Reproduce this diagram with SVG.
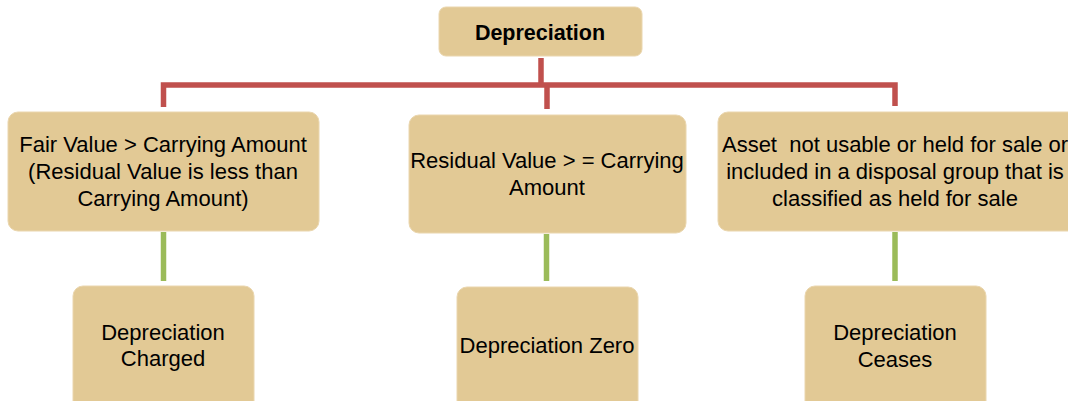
<svg xmlns="http://www.w3.org/2000/svg" width="1068" height="401" viewBox="0 0 1068 401">
<style>
.box{fill:#E2C995;stroke:#EAD6AE;stroke-width:1}
.t{font-family:"Liberation Sans",Arial,sans-serif;font-size:22px;fill:#000;text-anchor:middle}
.b{font-weight:bold;font-size:21.5px}
.red{fill:none;stroke:#C0504D;stroke-width:5.5}
.green{fill:none;stroke:#9BBB59;stroke-width:5.5}
</style>
<rect width="1068" height="401" fill="#fff"/>
<g id="connectors">
<path class="red" d="M541 58V85"/>
<path class="red" d="M163.5 107V85H895V106"/>
<path class="red" d="M547 85V109"/>
<path class="green" d="M163.5 232V281"/>
<path class="green" d="M546.5 234V281"/>
<path class="green" d="M895 232V281"/>
</g>
<g id="n-root">
<rect class="box" x="439" y="7" width="203" height="49" rx="7"/>
<text class="t b" x="540" y="40">Depreciation</text>
</g>
<g id="n-fair">
<rect class="box" x="8" y="112" width="311" height="119" rx="10"/>
<text class="t" x="163" y="152">Fair Value &gt; Carrying Amount</text>
<text class="t" x="163" y="179">(Residual Value is less than</text>
<text class="t" x="163" y="206">Carrying Amount)</text>
</g>
<g id="n-residual">
<rect class="box" x="409" y="115" width="277" height="118" rx="10"/>
<text class="t" x="547" y="168">Residual Value &gt; = Carrying</text>
<text class="t" x="547" y="195">Amount</text>
</g>
<g id="n-asset">
<rect class="box" x="718" y="112" width="360" height="119" rx="10"/>
<text class="t" x="895" y="152" xml:space="preserve">Asset  not usable or held for sale or</text>
<text class="t" x="895" y="179">included in a disposal group that is</text>
<text class="t" x="895" y="206">classified as held for sale</text>
</g>
<g id="n-charged">
<rect class="box" x="73" y="286" width="181" height="130" rx="10"/>
<text class="t" x="163" y="340">Depreciation</text>
<text class="t" x="163" y="366">Charged</text>
</g>
<g id="n-zero">
<rect class="box" x="457" y="287" width="181" height="130" rx="10"/>
<text class="t" x="547" y="353">Depreciation Zero</text>
</g>
<g id="n-ceases">
<rect class="box" x="805" y="286" width="181" height="130" rx="10"/>
<text class="t" x="895" y="340">Depreciation</text>
<text class="t" x="895" y="367">Ceases</text>
</g>
</svg>
